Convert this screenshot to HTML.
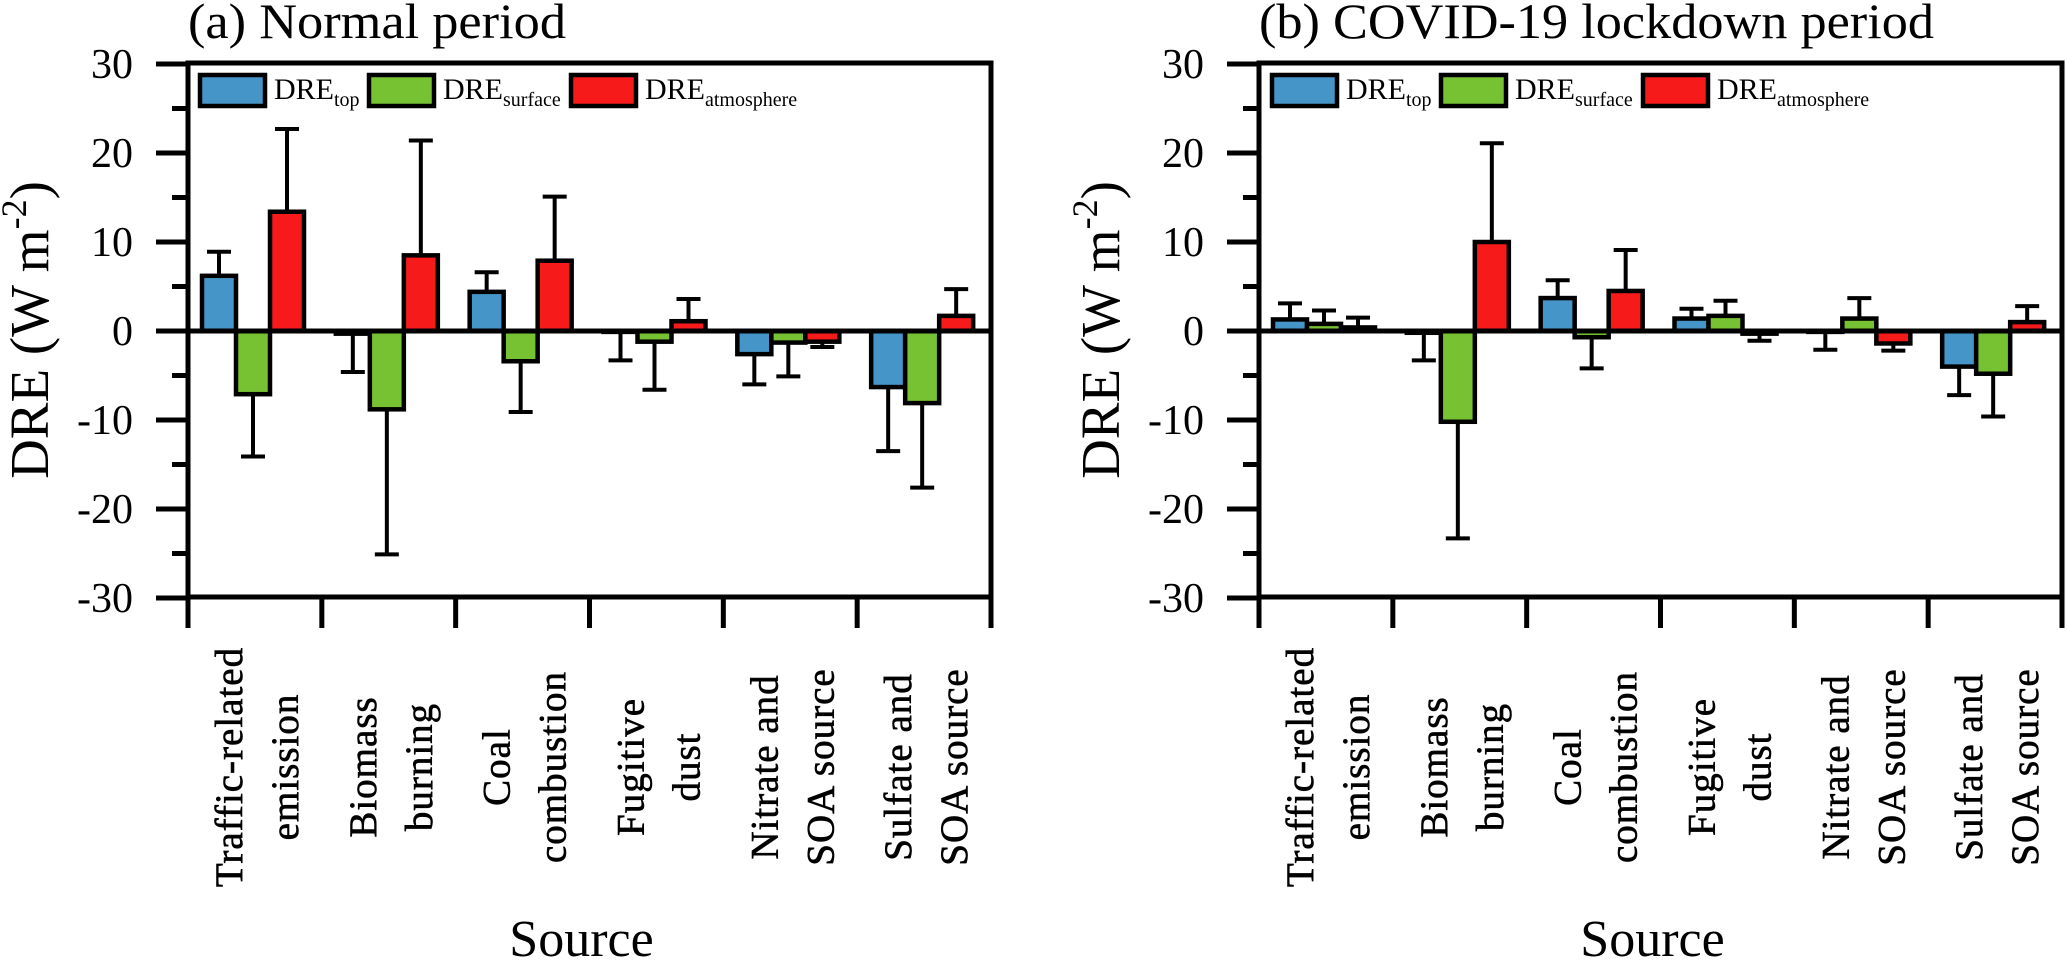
<!DOCTYPE html>
<html><head><meta charset="utf-8"><style>
html,body{margin:0;padding:0;background:#fff;}
svg{display:block;font-family:"Liberation Serif",serif;}
</style></head><body>
<svg id="chart" width="2067" height="960" viewBox="0 0 2067 960" xmlns="http://www.w3.org/2000/svg"></svg>
<script>
const categories = [["Traffic-related","emission"],["Biomass","burning"],["Coal","combustion"],["Fugitive","dust"],["Nitrate and","SOA source"],["Sulfate and","SOA source"]];
const yTicks = [30,20,10,0,-10,-20,-30];
const seriesNames = ["top","surface","atmosphere"];
// (a) normal period
const normalTop = [6.2,-0.3,4.4,-0.1,-2.6,-6.3];
const normalTopErr = [2.7,-4.3,2.2,-3.2,-3.4,-7.2];
const normalSurface = [-7.1,-8.8,-3.4,-1.2,-1.3,-8.1];
const normalSurfaceErr = [-7.0,-16.3,-5.7,-5.4,-3.8,-9.5];
const normalAtm = [13.4,8.5,7.9,1.1,-1.2,1.7];
const normalAtmErr = [9.3,12.9,7.2,2.5,-0.6,3.0];
// (b) COVID-19 lockdown period
const covidTop = [1.3,-0.2,3.7,1.4,-0.1,-4.0];
const covidTopErr = [1.8,-3.1,2.0,1.1,-2.0,-3.2];
const covidSurface = [0.8,-10.2,-0.7,1.7,1.4,-4.8];
const covidSurfaceErr = [1.5,-13.1,-3.5,1.7,2.3,-4.8];
const covidAtm = [0.4,10.0,4.5,-0.3,-1.4,1.0];
const covidAtmErr = [1.1,11.1,4.6,-0.8,-0.8,1.8];

const colors = ["#4595C8","#76C232","#F61A1A"];
const NS = "http://www.w3.org/2000/svg";
const svg = document.getElementById("chart");
function mk(tag, attrs, parent){
  const e = document.createElementNS(NS, tag);
  for (const k in attrs) e.setAttribute(k, attrs[k]);
  (parent||svg).appendChild(e);
  return e;
}

function drawPanel(p){
  const g = mk("g", {});
  
  
  const x0 = p.x0, x1 = p.x1, yTop = 63, yBot = 597;
  const yScale = v => 331 - v * (yBot - yTop) / 60;
  const catW = (x1 - x0) / categories.length;
  const barW = 34;

  const t = mk("text", {x: x0, y: 38, "font-size": 50, textLength: p.titleLen, lengthAdjust: "spacingAndGlyphs"}, g);
  t.textContent = p.title;
  
  

  const vals = [p.top, p.surface, p.atm];
  const errs = [p.topErr, p.surfaceErr, p.atmErr];
  for (let c = 0; c < categories.length; c++) {
    for (let s = 0; s < 3; s++) {
      const v = vals[s][c], e = errs[s][c];
      const bx = x0 + c * catW + 14 + s * barW;
      const y0 = yScale(0), yv = yScale(v);
      const cx = bx + barW / 2;
      const ye = yScale(v + e);
      const eb = mk("path", {d: `M${cx},${yv}V${ye}M${cx-12},${ye}H${cx+12}`, stroke: "#000", "stroke-width": 4, fill: "none"}, g);
      
      
      const r = mk("rect", {x: bx, y: Math.min(y0, yv), width: barW, height: Math.abs(yv - y0), fill: colors[s], stroke: "#000", "stroke-width": 4.5}, g);
      
      
    }
  }

  const fr = mk("rect", {x: x0, y: yTop, width: x1 - x0, height: yBot - yTop, fill: "none", stroke: "#000", "stroke-width": 5}, g);
  
  
  const zl = mk("line", {x1: x0 - 32, x2: x1, y1: yScale(0), y2: yScale(0), stroke: "#000", "stroke-width": 5}, g);
  
  

  yTicks.forEach(v => {
    const y = yScale(v);
    const tk = mk("line", {x1: x0 - 32, x2: x0, y1: y, y2: y, stroke: "#000", "stroke-width": 5}, g);
    
    
    const lb = mk("text", {x: x0 - 55, y: y + 14, "font-size": 42, "text-anchor": "end"}, g);
    lb.textContent = v;
    
    
  });
  for (let v = 25; v > -30; v -= 10) {
    const y = yScale(v);
    const mt = mk("line", {x1: x0 - 16, x2: x0, y1: y, y2: y, stroke: "#000", "stroke-width": 5}, g);
    
    
  }
  for (let c = 0; c <= categories.length; c++) {
    const x = x0 + c * catW;
    const xt = mk("line", {x1: x, x2: x, y1: yBot, y2: yBot + 31, stroke: "#000", "stroke-width": 5}, g);
    
    
  }
  categories.forEach((lines, c) => {
    const cx = x0 + c * catW + catW / 2;
    lines.forEach((ln, i) => {
      const bx = cx - 13 + i * 56;
      const tx = mk("text", {x: 0, y: 0, "font-size": 39, "letter-spacing": 1, stroke: "#000", "stroke-width": 0.6, "text-anchor": "middle", transform: `translate(${bx},767) rotate(-90)`}, g);
      tx.textContent = ln;
      
      
    });
  });
  const xt = mk("text", {x: (x0 + x1) / 2 - 8, y: 956, "font-size": 52, "text-anchor": "middle"}, g);
  xt.textContent = "Source";
  
  
  const yt = mk("text", {x: 0, y: 0, "font-size": 55, "text-anchor": "middle", transform: `translate(${x0 - 140},330) rotate(-90)`}, g);
  yt.innerHTML = 'DRE (W m<tspan dy="-22" font-size="36">-2</tspan><tspan dy="22">)</tspan>';
  
  

  const subs = ["top","surface","atmosphere"];
  p.legendX.forEach((lx, s) => {
    const lg = mk("g", {}, g);
    
    
    mk("rect", {x: lx, y: 75, width: 65, height: 31, fill: colors[s], stroke: "#000", "stroke-width": 4.5}, lg);
    const lt = mk("text", {x: lx + 74, y: 99, "font-size": 30}, lg);
    lt.innerHTML = 'DRE<tspan dy="7" font-size="20">' + subs[s] + '</tspan>';
  });
}

drawPanel({id: "normal", title: "(a) Normal period", titleLen: 378, x0: 188, x1: 991,
  top: normalTop, topErr: normalTopErr, surface: normalSurface, surfaceErr: normalSurfaceErr, atm: normalAtm, atmErr: normalAtmErr,
  legendX: [200, 369, 571]});
drawPanel({id: "covid", title: "(b) COVID-19 lockdown period", titleLen: 675, x0: 1259, x1: 2062,
  top: covidTop, topErr: covidTopErr, surface: covidSurface, surfaceErr: covidSurfaceErr, atm: covidAtm, atmErr: covidAtmErr,
  legendX: [1272, 1441, 1643]});
</script>
</body></html>
